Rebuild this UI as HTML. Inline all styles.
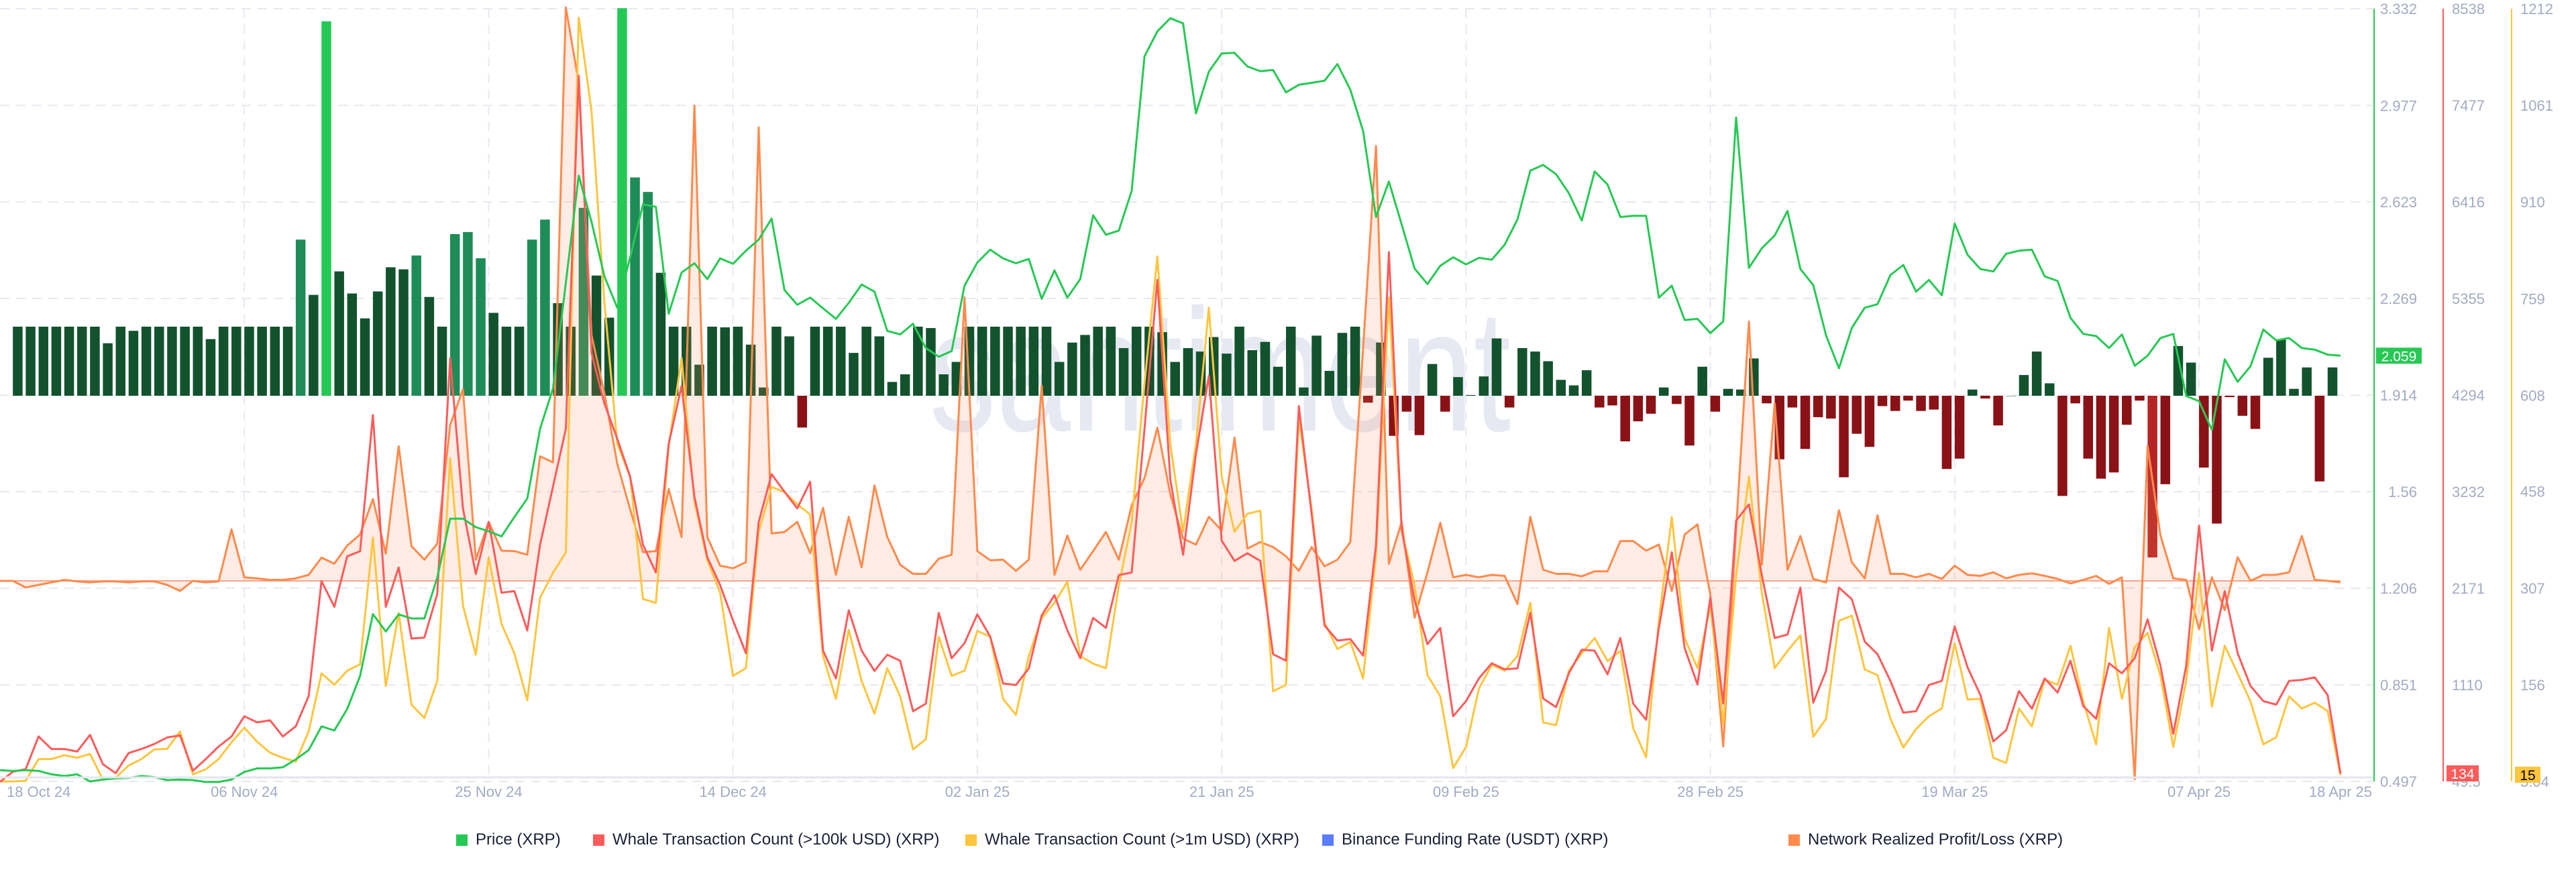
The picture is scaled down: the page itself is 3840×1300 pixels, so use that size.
<!DOCTYPE html>
<html><head><meta charset="utf-8">
<style>
html,body{margin:0;padding:0;background:#fff;}
body{width:3840px;height:1300px;overflow:hidden;font-family:"Liberation Sans",sans-serif;position:relative;}
svg{position:absolute;left:0;top:0;}
.legend{position:absolute;top:1236px;left:0;width:3840px;height:32px;font-size:24px;color:#1a1f36;}
.li{position:absolute;top:0;display:flex;align-items:center;height:32px;white-space:nowrap;}
.sw{width:17px;height:17px;margin-right:12px;display:inline-block;}
</style></head>
<body>
<svg id="chart" width="3840" height="1300"></svg>
<div class="legend">
 <div class="li" style="left:680px"><span class="sw" style="background:#26c953"></span>Price (XRP)</div>
 <div class="li" style="left:884px"><span class="sw" style="background:#ff5b5b"></span>Whale Transaction Count (&gt;100k USD) (XRP)</div>
 <div class="li" style="left:1439px"><span class="sw" style="background:#ffc53d"></span>Whale Transaction Count (&gt;1m USD) (XRP)</div>
 <div class="li" style="left:1971px"><span class="sw" style="background:#5b7cff"></span>Binance Funding Rate (USDT) (XRP)</div>
 <div class="li" style="left:2666px"><span class="sw" style="background:#ff8a4c"></span>Network Realized Profit/Loss (XRP)</div>
</div>
<script>
const dateLabels=["18 Oct 24","06 Nov 24","25 Nov 24","14 Dec 24","02 Jan 25","21 Jan 25","09 Feb 25","28 Feb 25","19 Mar 25","07 Apr 25","18 Apr 25"];
const dateIdx=[0,19,38,57,76,95,114,133,152,171,182];
const priceTicks=[3.332,2.977,2.623,2.269,1.914,1.56,1.206,0.851,0.497];
const priceTickLabels=["3.332","2.977","2.623","2.269","1.914","1.56","1.206","0.851","0.497"];
const redTicks=[8538,7477,6416,5355,4294,3232,2171,1110,49.5];
const yelTicks=[1212,1061,910,759,608,458,307,156,5.04];
const price=[0.538,0.536,0.538,0.536,0.523,0.517,0.523,0.497,0.504,0.508,0.510,0.517,0.513,0.502,0.504,0.502,0.495,0.495,0.504,0.532,0.545,0.545,0.549,0.578,0.612,0.699,0.684,0.763,0.884,1.111,1.047,1.110,1.095,1.095,1.245,1.461,1.461,1.430,1.415,1.396,1.467,1.535,1.791,1.939,2.327,2.720,2.550,2.350,2.235,2.420,2.614,2.605,2.213,2.364,2.398,2.340,2.416,2.396,2.444,2.485,2.562,2.300,2.246,2.272,2.233,2.194,2.253,2.320,2.294,2.150,2.137,2.176,2.087,2.055,2.076,2.316,2.401,2.448,2.416,2.398,2.414,2.268,2.372,2.272,2.340,2.574,2.503,2.518,2.664,3.157,3.249,3.297,3.278,2.948,3.101,3.168,3.170,3.120,3.103,3.107,3.025,3.053,3.060,3.068,3.129,3.035,2.883,2.568,2.698,2.540,2.379,2.322,2.389,2.420,2.394,2.418,2.411,2.466,2.559,2.738,2.759,2.725,2.655,2.555,2.735,2.687,2.568,2.572,2.572,2.272,2.316,2.190,2.194,2.142,2.185,2.933,2.381,2.453,2.500,2.590,2.377,2.318,2.133,2.013,2.161,2.235,2.248,2.355,2.392,2.294,2.337,2.281,2.544,2.429,2.377,2.368,2.433,2.444,2.448,2.350,2.333,2.198,2.139,2.131,2.087,2.137,2.022,2.059,2.124,2.139,1.911,1.892,1.787,2.046,1.963,2.020,2.155,2.115,2.124,2.087,2.081,2.063,2.059];
const whale100k=[45,156,184,544,406,406,378,561,239,140,361,406,461,533,555,167,295,433,544,766,699,721,544,655,987,2251,1968,2522,2578,4074,1968,2400,1619,1630,2107,4700,3049,2328,2899,2123,2140,1708,2650,3287,3924,7803,4755,4201,3813,3398,2650,2345,3758,4395,3176,2511,2206,1819,1458,2899,3425,3232,3049,3342,1486,1181,1929,1486,1264,1442,1375,821,904,1902,1403,1569,1885,1641,1126,1109,1292,1874,2096,1708,1403,1846,1736,2317,2345,3924,5559,3370,2539,3647,4506,2694,2472,2556,2472,1447,1375,4173,2982,1763,1597,1614,1431,2650,5863,2816,2040,1558,1736,766,932,1181,1348,1281,1292,1902,960,866,1237,1497,1486,1226,1625,904,727,1736,2567,1514,1115,2068,904,2916,3093,2317,1625,1663,2179,915,1264,2179,2051,1586,1447,1154,805,821,1109,1154,1752,1303,998,489,611,1043,849,1181,1026,1375,877,738,1348,1237,1403,1830,1320,572,1320,2860,1486,2140,1458,1098,932,893,1154,1165,1192,998,134];
const whale1m=[5,5,6,40,40,46,42,48,8,11,30,40,55,56,83,16,24,40,66,89,67,50,42,36,83,174,156,178,188,386,154,268,125,104,162,510,280,203,355,251,205,132,292,331,363,1198,1052,753,532,481,290,284,528,666,442,351,300,170,182,395,465,457,438,422,201,134,242,162,111,182,138,55,71,231,170,178,240,231,134,109,201,260,284,317,201,189,182,311,410,627,825,532,395,532,745,481,395,423,428,146,156,572,430,253,212,223,166,359,761,398,311,171,138,26,59,150,187,178,201,284,97,93,178,205,229,193,209,88,43,256,418,229,182,280,95,327,481,300,182,209,233,75,103,256,264,180,171,103,58,87,107,119,221,133,134,42,34,119,91,164,156,217,130,63,245,134,215,237,170,59,162,331,122,217,174,130,63,74,138,119,128,115,15];
const fundingRate=[null,10,10,10,10,10,10,10,7.6,10,9.4,10,10,10,10,10,8.2,10,10,10,10,10,10,22.6,14.6,54.2,18.0,14.8,11.2,15.1,18.6,18.3,20.3,14.3,10,23.4,23.7,19.9,12.0,10,10,22.6,25.5,13.4,10,27.2,17.4,11.3,56.1,31.6,29.5,17.8,10,10,4.5,10,9.9,10,7.4,1.2,10,8.6,-4.6,10,10,10,6.2,10,8.6,2.0,3.1,10,9.8,3.1,4.9,10,10,10,10,10,10,10,4.9,7.7,8.8,10,10,6.9,10,10,9.2,4.9,6.9,6.4,8.5,6.1,10,6.6,7.8,4.2,10,1.2,8.7,3.6,9.1,10,-1.0,7.7,-5.8,-2.3,-5.7,4.6,-2.3,2.7,0.1,2.8,8.3,-1.7,6.9,6.4,5.0,2.3,1.5,3.7,-1.7,-1.4,-6.6,-3.7,-2.6,1.2,-1.2,-7.2,4.2,-2.3,1.0,0.9,5.4,-1.1,-9.2,-1.7,-7.7,-3.1,-3.3,-11.8,-5.5,-7.4,-1.5,-2.2,-0.7,-2.2,-2.0,-10.6,-9.1,0.9,-0.4,-4.3,0,3.0,6.4,1.8,-14.5,-1.1,-9.1,-12.0,-11.1,-4.2,-0.7,-23.4,-12.8,7.2,4.8,-10.4,-18.5,-0.2,-2.9,-4.8,5.5,8.2,1.0,4.1,-12.4,4.1,null];
const nrpl=[0,0,-26,-16,-6,4,-2,-6,-2,-2,-6,-2,-2,-16,-40,0,-6,-2,204,14,10,4,4,10,24,92,68,140,184,324,108,534,138,84,148,618,760,84,234,120,118,104,494,470,2274,1974,974,744,464,284,114,118,364,174,1884,174,60,50,74,1798,188,194,234,110,290,24,254,54,378,174,64,28,28,88,104,1124,118,82,84,40,84,774,24,180,44,118,194,84,300,408,608,344,168,144,254,200,568,128,154,134,98,40,134,58,84,154,924,1724,68,234,-146,34,230,14,24,14,24,20,-92,254,44,28,28,18,38,38,158,158,120,144,-40,184,224,-56,-656,204,1028,64,704,44,178,8,-6,280,74,10,260,28,28,14,28,8,60,24,20,34,10,24,30,20,8,-10,4,20,-12,14,-786,534,180,10,4,-192,14,-116,94,0,24,24,34,178,4,0,-6];

const NS="http://www.w3.org/2000/svg";
const svg=document.getElementById('chart');
const TOP=13,BOT=1165,H=BOT-TOP,PLOTR=3539;
const xAt=i=>i*19.17;
const priceY=p=>BOT-(p-0.497)/2.835*H;
const redY=v=>BOT-(v-49.5)/(8538-49.5)*H;
const yelY=v=>BOT-(v-5.04)/(1212-5.04)*H;
const FBASE=590,fundY=v=>FBASE-v*10.3;
const NBASE=866,nrplY=v=>NBASE-v*0.376;
function mk(tag,attrs,parent){const e=document.createElementNS(NS,tag);for(const k in attrs)e.setAttribute(k,attrs[k]);(parent||svg).appendChild(e);return e;}

// clip
const defs=mk('defs',{});const cp=mk('clipPath',{id:'plot'},defs);mk('rect',{x:0,y:0,width:PLOTR,height:1170},cp);

// watermark
const wm=mk('text',{x:1385,y:640,'font-size':200,fill:'#e6e9f2','font-family':'Liberation Sans, sans-serif',transform:'translate(0,-190) scale(1,1.3)'});
wm.textContent='santiment';



// grid
const grid=mk('g',{});


priceTicks.forEach(p=>{mk('line',{x1:0,x2:PLOTR,y1:priceY(p),y2:priceY(p),stroke:'#e7e9f1','stroke-width':2,'stroke-dasharray':'14 10'},grid);});
dateIdx.slice(1,10).forEach(i=>{mk('line',{x1:xAt(i),x2:xAt(i),y1:TOP,y2:1159,stroke:'#e7e9f1','stroke-width':2,'stroke-dasharray':'14 10'},grid);});

const plot=mk('g',{'clip-path':'url(#plot)'});
// bars
const barsG=mk('g',{},plot);


fundingRate.forEach((v,i)=>{
 if(v===null)return;
 let c=v>=40?'#24c955':v>=19?'#1e8c57':v>=0?'#12532e':v<=-20?'#b52424':'#8a1217';
 const y=fundY(v);
 const r=mk('rect',{x:xAt(i),y:Math.min(y,FBASE),width:14.5,height:Math.max(Math.abs(FBASE-y),0.5),fill:c},barsG);
 
 
});
// nrpl area
let ad='M'+xAt(0)+','+NBASE;
nrpl.forEach((v,i)=>{ad+=' L'+xAt(i).toFixed(1)+','+nrplY(v).toFixed(1);});
ad+=' L'+xAt(nrpl.length-1)+','+NBASE+' Z';
const area=mk('path',{d:ad,fill:'rgba(255,138,90,0.16)',stroke:'none'},plot);


const bl=mk('line',{x1:0,x2:xAt(182),y1:NBASE,y2:NBASE,stroke:'#f5a58a','stroke-width':2},plot);


function line(arr,fy,color,name){
 const d=arr.map((v,i)=>(i?'L':'M')+xAt(i).toFixed(1)+','+fy(v).toFixed(1)).join(' ');
 const p=mk('path',{d:d,fill:'none',stroke:color,'stroke-width':3,'stroke-linejoin':'round'},plot);
 
 
}
line(nrpl,nrplY,'#ff8a4c','nrpl-line');
line(whale1m,yelY,'#ffc53d','whale-1m-line');
line(whale100k,redY,'#ff5b5b','whale-100k-line');
line(price,priceY,'#26c953','price-line');

// x axis
const xa=mk('line',{x1:0,x2:3540,y1:1159,y2:1159,stroke:'#e3e6ee','stroke-width':3});


dateIdx.forEach((di,k)=>{
 const t=mk('text',{x:k===0?10:xAt(di),y:1188,'font-size':22,fill:'#a3abc2','text-anchor':k===0?'start':'middle','font-family':'Liberation Sans, sans-serif'});
 t.textContent=dateLabels[k];
 
 
});
// right axes
const ga=mk('line',{x1:3539,x2:3539,y1:TOP,y2:BOT,stroke:'#26c953','stroke-width':2});


const ra=mk('line',{x1:3642,x2:3642,y1:TOP,y2:BOT,stroke:'#ff5b5b','stroke-width':2});


const ya=mk('line',{x1:3744,x2:3744,y1:TOP,y2:BOT,stroke:'#ffc53d','stroke-width':2});


priceTicks.forEach((p,k)=>{
 const t=mk('text',{x:3603,y:priceY(p)+8,'font-size':22,fill:'#a3abc2','text-anchor':'end'});
 t.textContent=priceTickLabels[k];
 
 
});
redTicks.forEach(v=>{
 const t=mk('text',{x:3655,y:redY(v)+8,'font-size':22,fill:'#a3abc2'});
 t.textContent=String(v);
 
 
});
yelTicks.forEach(v=>{
 const t=mk('text',{x:3757,y:yelY(v)+8,'font-size':22,fill:'#a3abc2'});
 t.textContent=String(v);
 
 
});
// value badges
function badge(x,yc,w,bg,fg,txt,name){
 const g=mk('g',{});
 
 
 mk('rect',{x:x,y:yc-12,width:w,height:24,fill:bg},g);
 const t=mk('text',{x:x+w/2,y:yc+8,'font-size':21,fill:fg,'text-anchor':'middle'},g);
 t.textContent=txt;
}
badge(3542,priceY(price[price.length-1]),68,'#26c953','#fff',price[price.length-1].toFixed(3),'price-last-value');
badge(3647,1153,48,'#ff5b5b','#fff',String(whale100k[whale100k.length-1]),'whale-100k-last-value');
badge(3749,1155,38,'#ffc53d','#000',String(whale1m[whale1m.length-1]),'whale-1m-last-value');
</script>
</body></html>
